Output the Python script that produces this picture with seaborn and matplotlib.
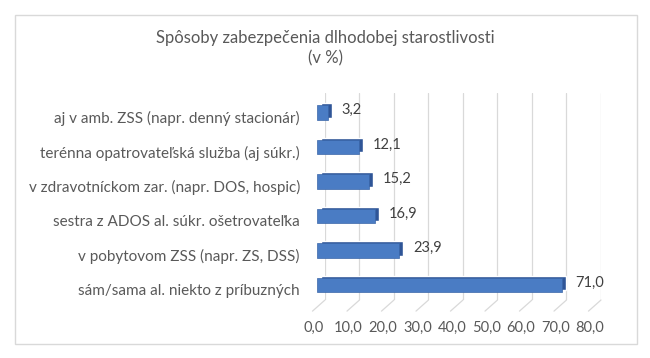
import matplotlib
matplotlib.use("Agg")
import matplotlib.pyplot as plt
import matplotlib.transforms as mtransforms
import seaborn as sns
import pandas as pd

# Data (top to bottom as shown)
categories = [
    "aj v amb. ZSS (napr. denný stacionár)",
    "terénna opatrovateľská služba (aj súkr.)",
    "v zdravotníckom zar. (napr. DOS, hospic)",
    "sestra z ADOS al. súkr. ošetrovateľka",
    "v pobytovom ZSS (napr. ZS, DSS)",
    "sám/sama al. niekto z príbuzných",
]
values = [3.2, 12.1, 15.2, 16.9, 23.9, 71.0]
x_ticks = [0, 10, 20, 30, 40, 50, 60, 70, 80]

TEXT_COLOR = "#595959"
BAR_FRONT = "#4a7cc4"
BAR_SIDE = "#2f5597"
GRID_COLOR = "#d9d9d9"


def fmt(v):
    return f"{v:.1f}".replace(".", ",")


def main():
    df = pd.DataFrame({"category": categories, "value": values})

    sns.set_theme(style="white")
    plt.rcParams["font.family"] = ["Lato", "DejaVu Sans"]

    fig = plt.figure(figsize=(6.5, 3.58), dpi=100)
    ax = fig.add_axes([0.5, 0.162, 0.4246, 0.578])

    # chart border
    fig.patches.append(plt.Rectangle((15 / 650, 14 / 358), 622 / 650, 329 / 358,
                                     transform=fig.transFigure, fill=False,
                                     edgecolor=GRID_COLOR, linewidth=1.0))

    # back part of the bars (gives the 3D depth)
    sns.barplot(data=df, x="value", y="category", orient="h", color=BAR_SIDE,
                saturation=1, width=0.42, ax=ax, zorder=3)
    n_back = len(ax.patches)
    # front face, shifted down-left
    sns.barplot(data=df, x="value", y="category", orient="h", color=BAR_FRONT,
                saturation=1, width=0.42, ax=ax, zorder=4)
    back_shift = mtransforms.ScaledTranslation(-4 / 100, 0, fig.dpi_scale_trans)
    front_shift = mtransforms.ScaledTranslation(-8 / 100, -2 / 100, fig.dpi_scale_trans)
    for p in ax.patches[:n_back]:
        p.set_transform(ax.transData + back_shift)
        p.set_clip_on(False)
    for p in ax.patches[n_back:]:
        p.set_transform(ax.transData + front_shift)
        p.set_clip_on(False)
        p.set_edgecolor("#3a66a8")
        p.set_linewidth(0.5)

    # value labels
    lbl_shift = mtransforms.ScaledTranslation(-4 / 100, -2 / 100, fig.dpi_scale_trans)
    for i, v in enumerate(values):
        t = ax.annotate(fmt(v), (v, i), xytext=(4, 0), textcoords="offset points",
                        ha="left", va="center", fontsize=10.5, color="#404040")
        t.set_transform(t.get_transform() + lbl_shift)

    ax.set_xlim(0, 80)
    ax.set_xticks(x_ticks)
    ax.set_xticklabels([fmt(t) for t in x_ticks])
    ax.set_xlabel("")
    ax.set_ylabel("")
    ax.set_ylim(len(categories) - 0.5, -0.5)

    # gridlines with slanted floor lines
    for t in x_ticks:
        ax.axvline(t, color=GRID_COLOR, linewidth=0.9, zorder=0)
        ax.annotate("", xy=(t, 0), xycoords=("data", "axes fraction"),
                    xytext=(-9, -8), textcoords="offset points",
                    arrowprops=dict(arrowstyle="-", color=GRID_COLOR, lw=0.9,
                                    shrinkA=0, shrinkB=0),
                    annotation_clip=False)

    for s in ax.spines.values():
        s.set_visible(False)

    ax.tick_params(axis="x", length=0, pad=15, labelsize=10.5, labelcolor=TEXT_COLOR)
    ax.tick_params(axis="y", length=0, pad=18, labelsize=11, labelcolor=TEXT_COLOR)
    x_shift = mtransforms.ScaledTranslation(-11 / 100, 0, fig.dpi_scale_trans)
    for lbl in ax.get_xticklabels():
        lbl.set_transform(lbl.get_transform() + x_shift)
    y_shift = mtransforms.ScaledTranslation(0, -7 / 100, fig.dpi_scale_trans)
    for lbl in ax.get_yticklabels():
        lbl.set_transform(lbl.get_transform() + y_shift)

    fig.text(0.5, 1 - 38 / 358, "Spôsoby zabezpečenia dlhodobej starostlivosti",
             ha="center", va="center", fontsize=12, color=TEXT_COLOR)
    fig.text(0.5, 1 - 58 / 358, "(v %)", ha="center", va="center",
             fontsize=12, color=TEXT_COLOR)

    fig.savefig("out.png", dpi=100, facecolor="white")


if __name__ == "__main__":
    main()
